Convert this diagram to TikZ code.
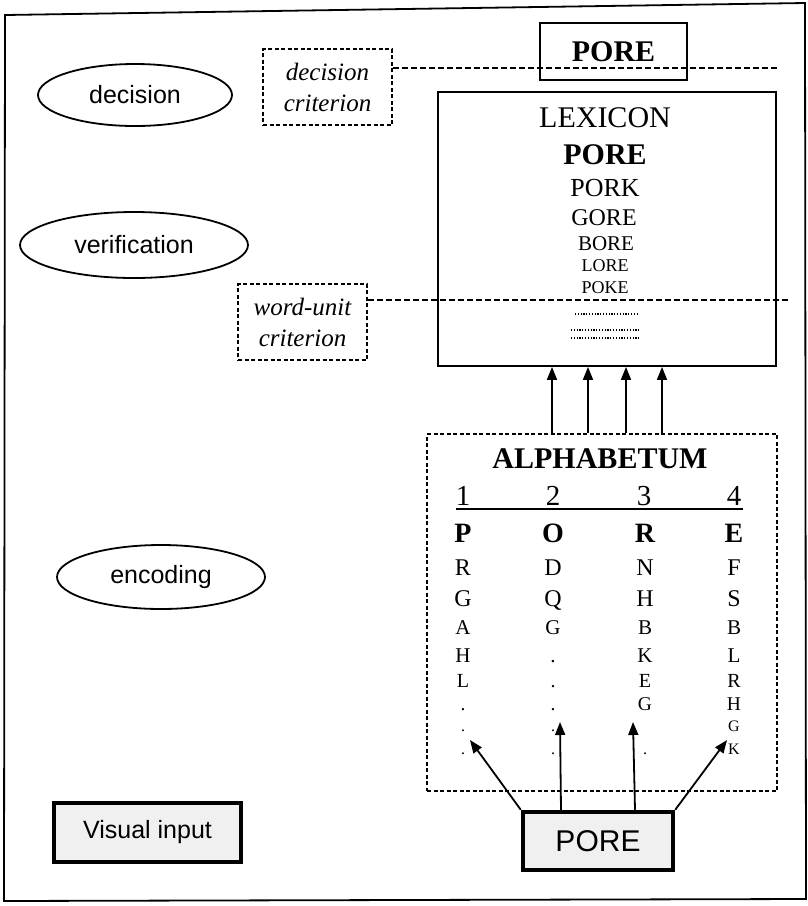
\documentclass[tikz,border=0pt]{standalone}
\usepackage{fontspec}
\setmainfont{Liberation Serif}
\newfontfamily\arialfam{Liberation Sans}
\usetikzlibrary{arrows.meta,shapes.geometric}
\newcommand\fsz[1]{\fontsize{#1}{#1}\selectfont}

\begin{document}
\begin{tikzpicture}[x=1pt,y=-1pt,
  stage/.style={ellipse, draw, line width=1.8pt, inner sep=0pt,
    font=\arialfam\fsz{25}},
  crit/.style={draw, dash pattern=on 4pt off 2.5pt, line width=1.3pt,
    inner sep=0pt, minimum width=129pt, minimum height=76pt, align=center,
    font=\itshape\fontsize{25}{31}\selectfont},
  critline/.style={dash pattern=on 6pt off 3pt, line width=1.3pt},
  plainbox/.style={draw, line width=1.8pt, inner sep=0pt},
  inputbox/.style={draw, line width=4.5pt, inner sep=0pt, fill=black!6,
    font=\arialfam\fsz{25}},
  word/.style={anchor=base, inner sep=0pt},
  cell/.style={anchor=base, inner sep=0pt},
  arr/.style={line width=1.8pt, -{Triangle[length=13pt,width=10pt]}},
  dotrow/.style={line width=1.3pt, dash pattern=on 1.2pt off 1.6pt}
]
\useasboundingbox (0,0) rectangle (808,906);

% outer frame
\draw[line width=1.8pt] (5,15) -- (805,3) -- (806,899) -- (4,901) -- cycle;

% processing stages
\node[stage, minimum width=194pt, minimum height=62pt] (decision) at (135,95) {decision};
\node[stage, minimum width=228pt, minimum height=66pt] (verify) at (134,245) {verification};
\node[stage, minimum width=208pt, minimum height=64pt] (encode) at (161,577) {encoding};

% criteria
\node[crit] (dcrit) at (327.5,87) {decision\\criterion};
\node[crit] (wcrit) at (302.5,322) {word-unit\\criterion};

% recognised word
\node[plainbox, minimum width=147pt, minimum height=57pt, font=\bfseries\fsz{30}]
  (result) at (613.5,51.5) {PORE};

% lexicon
\node[plainbox, minimum width=338pt, minimum height=274pt] (lex) at (607,229) {};
\node[word, font=\fsz{30}] (lexT) at (605,127) {LEXICON};
\node[word, font=\bfseries\fsz{30}] (w1) at (605,164.5) {PORE};
\node[word, font=\fsz{26}] (w2) at (605,196) {PORK};
\node[word, font=\fsz{24}] (w3) at (604,225.5) {GORE};
\node[word, font=\fsz{21}] (w4) at (606,250) {BORE};
\node[word, font=\fsz{18}] (w5) at (605,271) {LORE};
\node[word, font=\fsz{18}] (w6) at (605,293.5) {POKE};
\coordinate (d1a) at (575,314); \coordinate (d1b) at (637,314);
\coordinate (d2a) at (571,330); \coordinate (d2b) at (640,330);
\coordinate (d3a) at (571,338); \coordinate (d3b) at (640,338);
\draw[dotrow] (d1a) -- (d1b);
\draw[dotrow] (d2a) -- (d2b);
\draw[dotrow] (d3a) -- (d3b);

% criterion lines
\coordinate (dcEnd) at (777,68);
\coordinate (wcEnd) at (788,300);
\draw[critline] ([yshift=19pt]dcrit.east) -- (dcEnd);
\draw[critline] ([yshift=22pt]wcrit.east) -- (wcEnd);

% letter-position alphabet
\node[draw, dash pattern=on 4pt off 2.5pt, line width=1.3pt, inner sep=0pt,
  minimum width=350pt, minimum height=357pt] (alpha) at (602,612.5) {};
\node[word, font=\bfseries\fsz{30}] (alphaT) at (600,468) {ALPHABETUM};
\foreach \n/\x in {1/463, 2/553, 3/644, 4/734}
  \node[cell, font=\fsz{29}] (h\n) at (\x,505) {\n};
\coordinate (ulA) at (456,509); \coordinate (ulB) at (743,509);
\draw[line width=1.4pt] (ulA) -- (ulB);
\foreach \n/\x/\c in {1/463/P, 2/553/O, 3/645/R, 4/734/E}
  \node[cell, font=\bfseries\fsz{28}] (b\n) at (\x,542) {\c};

% candidate letters per position: baseline, size, letters of columns 1-4
\foreach \y/\s/\a/\b/\c/\d in {
    575/24/R/D/N/F,
    606/24/G/Q/H/S,
    634/21/A/G/B/B,
    662/21/H/./K/L,
    687/20/L/./E/R,
    710/19.5/././G/H,
    731/16/././{}/G,
    754/16/./././K}{
  \node[cell, font=\fsz{\s}] at (463,\y) {\a};
  \node[cell, font=\fsz{\s}] at (553,\y) {\b};
  \node[cell, font=\fsz{\s}] at (645,\y) {\c};
  \node[cell, font=\fsz{\s}] at (734,\y) {\d};
}

% alphabet feeds the lexicon
\foreach \x in {552, 588, 626, 662}
  \draw[arr] (alpha.north -| \x,0) -- (lex.south -| \x,0);

% visual input
\node[inputbox, minimum width=187pt, minimum height=59pt] (vis) at (147.5,832.5) {Visual input};
\node[inputbox, minimum width=150pt, minimum height=58pt, font=\arialfam\fsz{30}]
  (stim) at (598,841) {PORE};

\coordinate (t1) at (470,740);
\coordinate (t2) at (560,722);
\coordinate (t3) at (633,722);
\coordinate (t4) at (727,740);
\draw[arr] (stim.north west) -- (t1);
\draw[arr] (stim.north -| 561,0) -- (t2);
\draw[arr] (stim.north -| 635,0) -- (t3);
\draw[arr] (stim.north east) -- (t4);
\end{tikzpicture}
\end{document}
